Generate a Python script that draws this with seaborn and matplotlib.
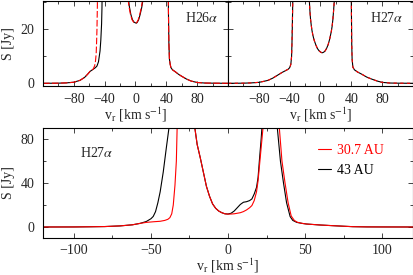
import matplotlib
matplotlib.use("Agg")
import matplotlib.pyplot as plt
from matplotlib.ticker import MultipleLocator
import numpy as np
import seaborn as sns

# ---- H26alpha (top left) ----
h26_v_black = [-120, -100, -90, -80, -72, -66, -62, -59, -55, -52, -50, -48, -47, -46, -45, -44,
               -43.5, -43, -42, -20, -14, -12, -10, -9, -8, -6, -4, -2, 0, 1, 2, 4, 6, 8, 10, 12,
               14, 30, 41.5, 42.3, 42.8, 43.3, 44, 45, 46, 48, 52, 56, 60, 66, 72, 80, 90, 100, 120]
h26_s_black = [0, 0.05, 0.15, 0.4, 1.1, 2.2, 3.4, 4.4, 5.2, 5.8, 6.4, 8, 10, 12, 16, 22,
               28, 40, 60, 60, 60, 45, 36, 31, 28.5, 25.5, 23.6, 22.7, 22.4, 22.3, 22.5, 23.5, 25.5, 28, 31.5, 38,
               60, 60, 60, 40, 25, 15, 9, 7, 5.8, 5, 4.2, 3.3, 2.6, 1.6, 0.85, 0.3, 0.1, 0.05, 0]
h26_v_red = [-120, -100, -90, -80, -72, -66, -62, -59, -55, -53, -52, -51, -50.5, -50, -49.5, -49,
             -48, -20, -14, -12.5, -10.5, -9.5, -8.5, -6.5, -4.5, -2.5, -0.5, 0.5, 1.5, 3.5, 5.5, 7.5, 9.5, 11.5,
             13.5, 30, 41.5, 42.3, 42.8, 43.3, 44, 45, 46, 48, 52, 56, 60, 66, 72, 80, 90, 100, 120]
h26_s_red = [0, 0.05, 0.15, 0.4, 1.1, 2.2, 3.4, 4.4, 5.2, 6.5, 8, 11, 15, 20, 28, 40,
             60, 60, 60, 45, 36, 31, 28.5, 25.5, 23.6, 22.7, 22.4, 22.3, 22.5, 23.5, 25.5, 28, 31.5, 38,
             60, 60, 60, 40, 25, 15, 9, 7, 5.8, 5, 4.2, 3.3, 2.6, 1.6, 0.85, 0.3, 0.1, 0.05, 0]

# ---- H27alpha (top right), both models coincide ----
h27_v = [-120, -100, -90, -80, -74, -68, -62, -58, -54, -50, -46, -42, -40, -38.5, -37.5, -37,
         -36.5, -36, -35.5, -35, -16, -15, -14.5, -14, -13, -12, -11, -10, -9, -8, -7, -6, -4, -2,
         0, 2, 4, 6, 8, 10, 12, 14, 15, 16, 17, 18, 19, 20, 39, 40, 40.5, 41, 42, 44, 48, 54,
         60, 67, 74, 80, 90, 100, 120]
h27_s = [0, 0.05, 0.15, 0.35, 0.7, 1.1, 1.9, 2.6, 3.3, 4.0, 4.6, 5.2, 5.8, 7, 10, 15,
         22, 30, 45, 60, 60, 40, 31, 28, 24, 21.5, 19.5, 18, 16.8, 15.8, 15, 14.2, 12.9, 12.1,
         11.6, 11.3, 11.5, 12.0, 13, 14.4, 16.5, 19.2, 21, 23.5, 27, 31, 40, 60, 60, 30, 15, 9, 6, 5, 4.2, 3.3,
         2.3, 1.5, 0.8, 0.35, 0.1, 0.05, 0]

# ---- H27alpha (bottom) ----
b_v_43 = [-120, -100, -90, -80, -70, -62, -57, -53, -50, -48.5, -47, -45.5, -44, -42, -40, -38.3,
          -36, -24, -21.5, -20, -18, -16, -14, -12, -10, -8, -6, -4, -2, 0, 2, 4, 6, 8, 10, 12,
          14, 15.5, 17, 18.5, 19.5, 20.5, 21.5, 22, 23, 31, 32, 34, 36, 38, 40.3, 42, 44.6, 48,
          51, 60, 68, 75, 81, 90, 100, 120]
b_s_43 = [0, 0.05, 0.2, 0.4, 1.0, 2.0, 3.3, 5, 7.5, 9.6, 14, 22, 32, 50, 72, 90,
          130, 130, 90, 75, 63, 50, 37, 28, 21, 17, 14.5, 13, 12, 11.8, 12.5, 14.5, 17.5, 20.5, 22.5, 23,
          24, 25.5, 30, 36, 45, 63, 80, 90, 130, 130, 90, 60, 40, 22, 9.5, 6, 4.2, 3.3,
          2.7, 1.8, 1.2, 0.7, 0.3, 0.1, 0.05, 0]
b_v_307 = [-120, -100, -90, -80, -70, -62, -57, -53, -48, -44, -41, -39, -37.7, -36.5, -35.5, -34.4,
           -33.5, -33, -32, -24, -21.5, -20, -18, -16, -14, -12, -10, -8, -6, -4, -2, 0, 2, 4, 6, 8,
           10, 12, 14, 15.5, 17, 18.5, 19.5, 20.5, 21.5, 22.5, 23, 24, 32, 33.3, 35, 37, 39, 41, 43,
           45, 48, 51, 60, 68, 75, 81, 90, 100, 120]
b_s_307 = [0, 0.05, 0.2, 0.4, 1.0, 2.0, 3.3, 4.2, 4.8, 5.2, 6, 7, 8.5, 12, 20, 38,
           60, 90, 130, 130, 90, 75, 63, 50, 37, 28, 21, 17, 14.5, 13, 12.0, 11.7, 11.8, 12.0, 12.5, 13,
           14, 15.5, 17.5, 19.5, 24, 32, 42, 57, 72, 87, 95, 130, 130, 90, 60, 40, 22, 10, 6,
           4.3, 3.3, 2.7, 1.8, 1.2, 0.7, 0.3, 0.1, 0.05, 0]

sns.set_style("ticks")
plt.rcParams.update({
    "font.family": ["Liberation Serif", "DejaVu Serif"],
    "mathtext.fontset": "stix",
    "font.size": 10,
    "axes.linewidth": 0.8,
    "xtick.direction": "in", "ytick.direction": "in",
    "xtick.top": True, "ytick.right": True,
    "xtick.major.size": 3.5, "ytick.major.size": 3.5,
    "xtick.minor.size": 2.2, "ytick.minor.size": 2.2,
    "xtick.major.width": 0.6, "ytick.major.width": 0.6,
    "xtick.minor.width": 0.6, "ytick.minor.width": 0.6,
    "xtick.major.pad": 5, "ytick.major.pad": 6,
    "axes.edgecolor": "black",
})

fig = plt.figure(figsize=(4.14, 2.75), dpi=100)
W, H = 414.0, 275.0
ax1 = fig.add_axes([43 / W, 1 - 86 / H, 185 / W, 85.5 / H])
ax2 = fig.add_axes([228 / W, 1 - 86 / H, 185 / W, 85.5 / H])
ax3 = fig.add_axes([43 / W, 1 - 238 / H, 370 / W, 110 / H])

lw = 0.8
xlab = r"v$_{\rm r}$ [km s$^{-1}$]"

sns.lineplot(x=h26_v_black, y=h26_s_black, ax=ax1, color="black", lw=lw, sort=False, estimator=None)
sns.lineplot(x=h26_v_red, y=h26_s_red, ax=ax1, color="red", lw=lw, sort=False, estimator=None,
             linestyle=(0, (6, 2)))
sns.lineplot(x=h27_v, y=h27_s, ax=ax2, color="black", lw=lw, sort=False, estimator=None)
sns.lineplot(x=h27_v, y=h27_s, ax=ax2, color="red", lw=lw, sort=False, estimator=None,
             linestyle=(0, (3, 3)))

for ax, name in [(ax1, r"H26$\alpha$"), (ax2, r"H27$\alpha$")]:
    ax.set_xlim(-120, 120)
    ax.set_ylim(-1, 30.7)
    ax.xaxis.set_major_locator(MultipleLocator(40))
    ax.xaxis.set_minor_locator(MultipleLocator(20))
    ax.yaxis.set_major_locator(MultipleLocator(20))
    ax.yaxis.set_minor_locator(MultipleLocator(10))
    ax.set_xticks([-80, -40, 0, 40, 80])
    ax.set_xlabel(xlab, labelpad=0)
    ax.text(0.95, 0.8, name, transform=ax.transAxes, ha="right", va="center")
ax1.set_ylabel("S [Jy]", labelpad=4)
ax2.set_ylabel("")
ax2.tick_params(axis="y", labelleft=False)

sns.lineplot(x=b_v_43, y=b_s_43, ax=ax3, color="black", lw=lw, sort=False, estimator=None, label="43 AU")
sns.lineplot(x=b_v_307, y=b_s_307, ax=ax3, color="red", lw=lw, sort=False, estimator=None, label="30.7 AU")
ax3.set_xlim(-120, 120)
ax3.set_ylim(-10, 90)
ax3.xaxis.set_major_locator(MultipleLocator(50))
ax3.xaxis.set_minor_locator(MultipleLocator(25))
ax3.yaxis.set_major_locator(MultipleLocator(40))
ax3.yaxis.set_minor_locator(MultipleLocator(20))
ax3.tick_params(axis="x", pad=4)
ax3.set_xlabel(xlab, labelpad=0)
ax3.set_ylabel("S [Jy]", labelpad=4)
ax3.text(0.1, 0.77, r"H27$\alpha$", transform=ax3.transAxes, ha="left", va="center")
handles, labels = ax3.get_legend_handles_labels()
leg = ax3.legend(handles[::-1], labels[::-1], loc="upper right", bbox_to_anchor=(0.955, 0.97),
                 frameon=False, handlelength=1.0, handletextpad=0.4, labelspacing=0.5,
                 labelcolor="linecolor", fontsize=10)

for ax in (ax1, ax2, ax3):
    ax.tick_params(which="both", top=True, right=True, direction="in")

fig.savefig("out.png", dpi=100)
